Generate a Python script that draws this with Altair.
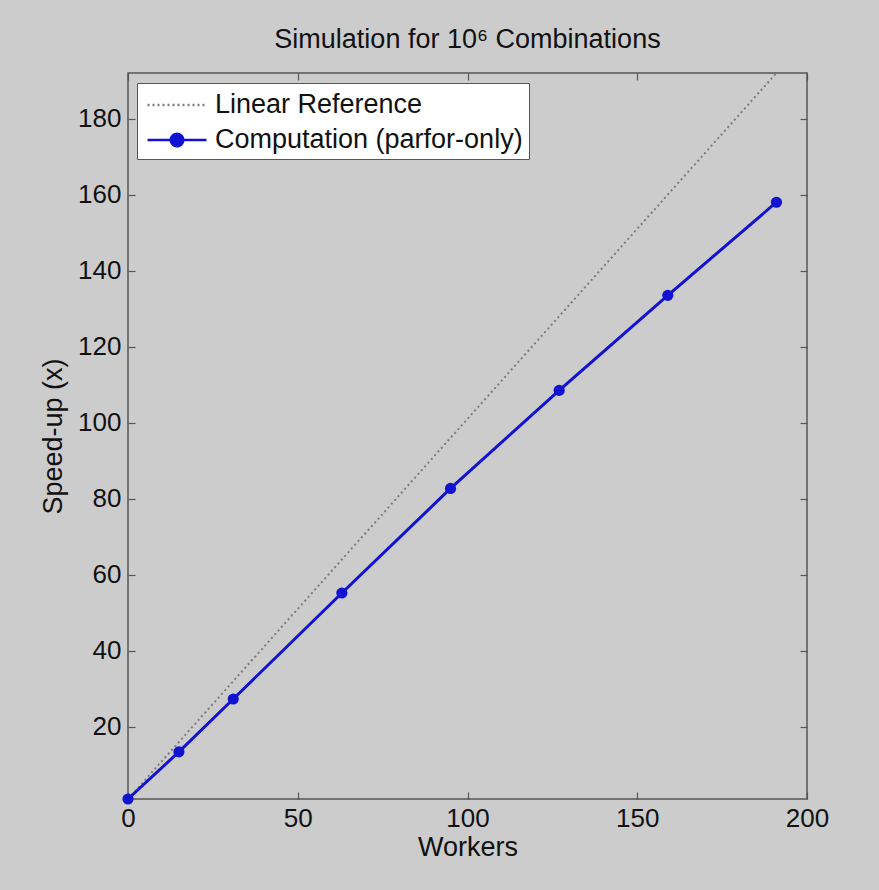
import altair as alt
import pandas as pd

# ---- data ----
workers = [0, 15, 31, 63, 95, 127, 159, 191]
speedup = [1.0, 13.4, 27.3, 55.2, 82.7, 108.5, 133.5, 158.0]
linear_ref = [1, 16, 32, 64, 96, 128, 160, 192]
series = ["Linear Reference", "Computation (parfor-only)"]
x_ticks = [0, 50, 100, 150, 200]
y_ticks = [20, 40, 60, 80, 100, 120, 140, 160, 180]
x_domain = [0, 200]
y_domain = [1, 192]

ref_df = pd.DataFrame({"workers": workers, "value": linear_ref, "series": series[0]})
comp_df = pd.DataFrame({"workers": workers, "value": speedup, "series": series[1]})
legend_df = pd.DataFrame({"series": series})

FONT = "Liberation Sans"
BLUE = "#1212d2"
GRAY = "#7c7c7c"
FRAME = "#555555"
BG = "#cccccc"
TXT = "#111111"

W, H = 679, 726

x_scale = alt.Scale(domain=x_domain, nice=False, zero=False)
y_scale = alt.Scale(domain=y_domain, nice=False, zero=False)

common_axis = dict(grid=False, domain=False, tickSize=7, offset=-7, tickColor=FRAME,
                   tickWidth=1.2, labelFont=FONT, labelFontSize=26, labelColor=TXT,
                   labelFlush=False, labelOverlap=False,
                   titleFont=FONT, titleFontSize=27, titleFontWeight="normal",
                   titleColor=TXT)

x_bottom = alt.Axis(orient="bottom", values=x_ticks, labelPadding=6, title="Workers",
                    titlePadding=3, **common_axis)
y_left = alt.Axis(orient="left", values=y_ticks, labelPadding=7, title="Speed-up (x)",
                  titlePadding=10, **common_axis)
x_top = alt.Axis(orient="top", values=x_ticks, labels=False, title=None, **common_axis)
y_right = alt.Axis(orient="right", values=y_ticks, labels=False, title=None, **common_axis)

ref_line = alt.Chart(ref_df).mark_line(color=GRAY, strokeWidth=2, strokeDash=[2, 3]).encode(
    x=alt.X("workers:Q", scale=x_scale, axis=x_bottom),
    y=alt.Y("value:Q", scale=y_scale, axis=y_left),
)

comp_line = alt.Chart(comp_df).mark_line(color=BLUE, strokeWidth=3).encode(
    x=alt.X("workers:Q", scale=x_scale, axis=None),
    y=alt.Y("value:Q", scale=y_scale, axis=None),
)

comp_pts = alt.Chart(comp_df).mark_circle(color=BLUE, size=125, opacity=1).encode(
    x=alt.X("workers:Q", scale=x_scale, axis=x_top),
    y=alt.Y("value:Q", scale=y_scale, axis=y_right),
)

line_path = "M-2,0H2"
comp_path = "M-2,0H2M0.42,0A0.42,0.42,0,1,1,-0.42,0A0.42,0.42,0,1,1,0.42,0Z"

leg = alt.Legend(orient="none", legendX=9, legendY=10, title=None, fillColor="white",
                 strokeColor=FRAME, padding=6, labelFont=FONT, labelFontSize=27,
                 labelColor=TXT, labelLimit=600, symbolSize=870, symbolStrokeWidth=2.5,
                 rowPadding=6, labelOffset=22, symbolOffset=18, symbolOpacity=1)

# legend-only layer: its rows are filtered out, the legend comes from the scale domains
legend_layer = alt.Chart(legend_df).mark_point(filled=False).encode(
    fill=alt.Fill("series:N", scale=alt.Scale(domain=series, range=[GRAY, BLUE]), legend=leg, sort=series),
    stroke=alt.Stroke("series:N", scale=alt.Scale(domain=series, range=[GRAY, BLUE]), legend=leg, sort=series),
    shape=alt.Shape("series:N", scale=alt.Scale(domain=series, range=[line_path, comp_path]), legend=leg, sort=series),
    strokeDash=alt.StrokeDash("series:N", scale=alt.Scale(domain=series, range=[[2, 3], [1, 0]]), legend=leg, sort=series),
).transform_filter("datum.series == 'none'")

chart = alt.layer(ref_line, comp_line, comp_pts, legend_layer).resolve_axis(
    x="independent", y="independent"
).properties(
    width=W, height=H,
    title=alt.Title("Simulation for 10\u2076 Combinations", font=FONT, fontSize=27,
                    fontWeight="normal", color=TXT, offset=15, anchor="middle"),
    background=BG,
    padding={"left": 128, "top": 73, "right": 72, "bottom": 91},
    autosize=alt.AutoSizeParams(type="none"),
).configure_view(
    stroke=FRAME, strokeWidth=1.5, fill="white"
)

chart.save("out.html", embed_options={"renderer": "svg", "actions": False})
